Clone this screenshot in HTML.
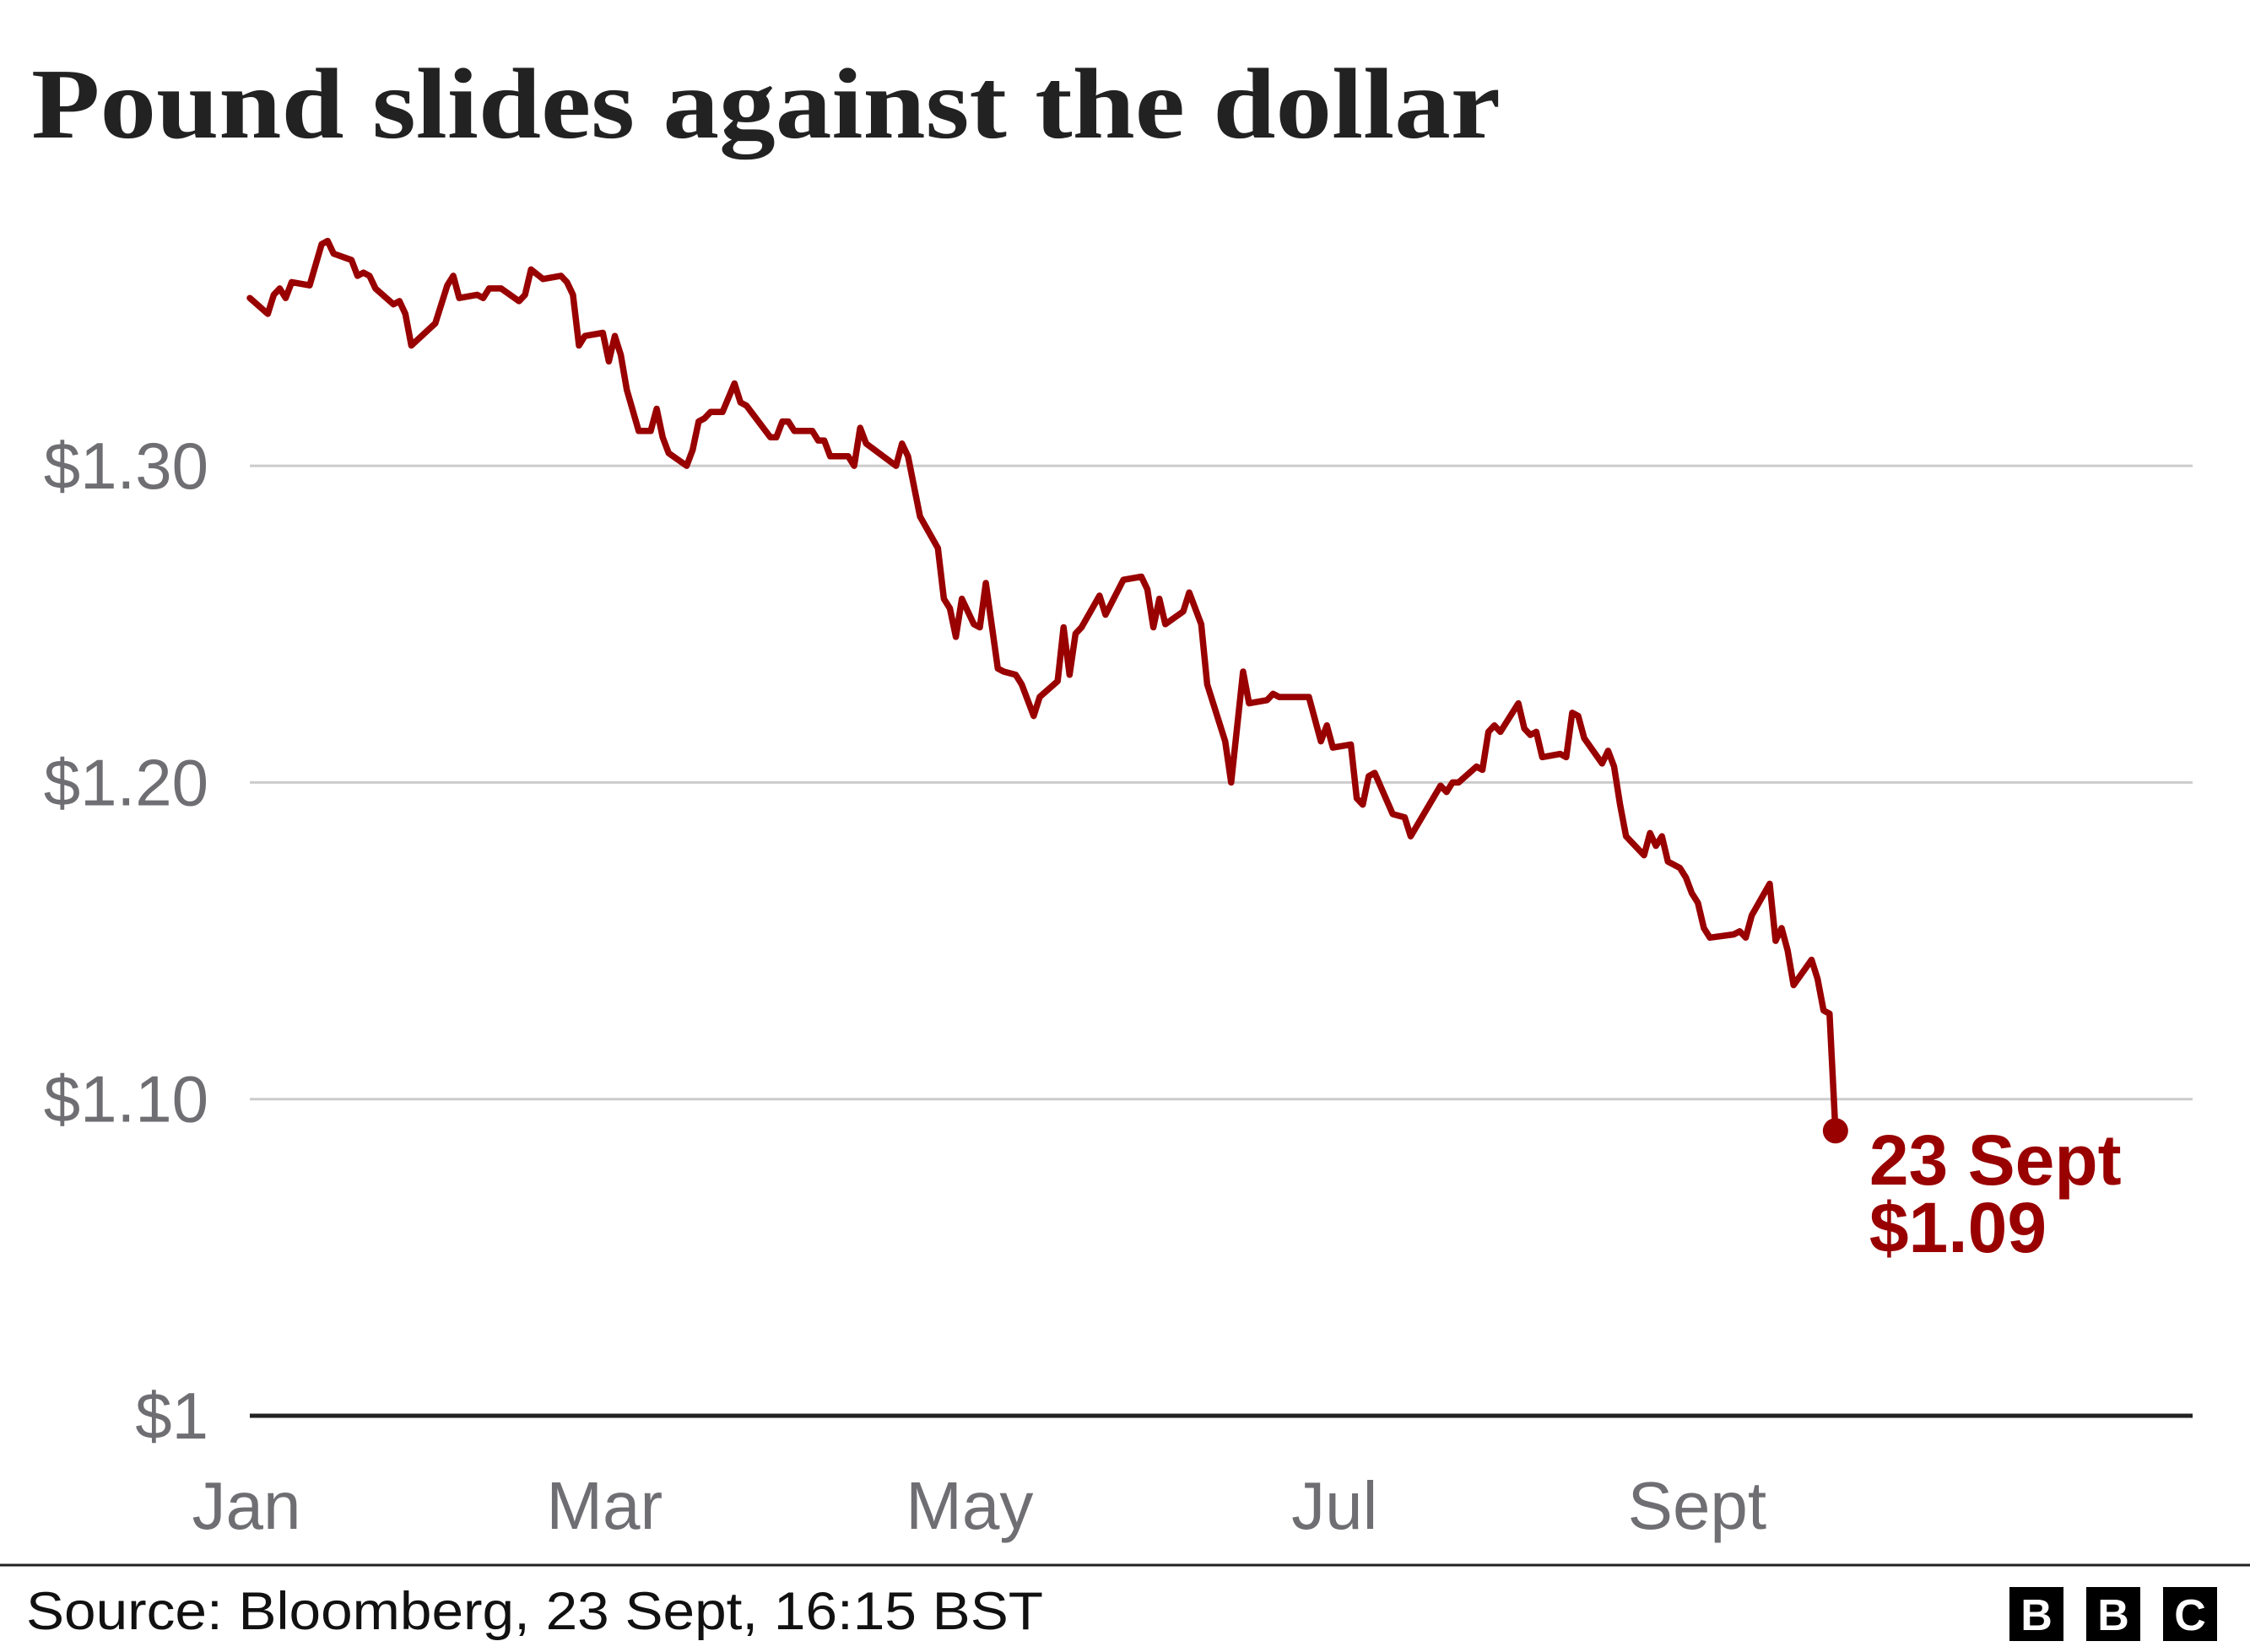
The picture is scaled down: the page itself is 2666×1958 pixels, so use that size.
<!DOCTYPE html>
<html><head><meta charset="utf-8">
<style>
html,body{margin:0;padding:0;background:#fff;}
svg{display:block;}
</style></head>
<body>
<svg id="chart" width="2666" height="1958" viewBox="0 0 2666 1958" xmlns="http://www.w3.org/2000/svg">
<rect width="2666" height="1958" fill="#fff"/>
<text x="37" y="163" font-family="Liberation Serif, serif" font-weight="bold" font-size="119" fill="#222" textLength="1741" lengthAdjust="spacingAndGlyphs">Pound slides against the dollar</text>
<g id="grid"></g>
<g id="yticks"></g>
<g id="xticks"></g>
<g id="series"></g>
<line x1="0" y1="1855" x2="2666" y2="1855" stroke="#222" stroke-width="3"/>
<text x="31" y="1931" font-family="Liberation Sans, sans-serif" font-size="63" fill="#111" textLength="1205" lengthAdjust="spacingAndGlyphs">Source: Bloomberg, 23 Sept, 16:15 BST</text>
<g font-family="Liberation Sans, sans-serif" font-weight="bold" font-size="52" fill="#fff" text-anchor="middle">
<rect x="2381" y="1881" width="64" height="64" fill="#000"/><text x="2413" y="1932">B</text>
<rect x="2472" y="1881" width="64" height="64" fill="#000"/><text x="2504" y="1932">B</text>
<rect x="2563" y="1881" width="64" height="64" fill="#000"/><text x="2595" y="1932">C</text>
</g>
</svg>
<script>
const days = [0,3,4,5,6,7,10,12,13,14,17,18,19,20,21,24,25,26,27,31,33,34,35,38,39,40,42,45,46,47,49,52,53,54,55,56,59,60,61,62,63,65,67,68,69,70,73,74,75,76,77,79,81,82,83,87,88,89,90,91,94,95,96,97,100,101,102,103,108,109,110,112,115,116,117,118,119,121,122,123,125,126,128,129,131,132,135,136,137,138,139,142,143,146,149,150,151,152,153,156,157,159,160,163,164,166,167,170,171,172,174,177,179,180,181,184,185,186,187,188,191,193,194,199,200,201,202,205,206,207,208,209,212,213,214,215,216,219,220,221,222,223,226,227,228,229,230,233,234,235,236,237,239,240,241,242,243,244,248,249,250,251,254,255,256,257,258,261,262,263,264,265];
const rates = [1.353,1.348,1.354,1.356,1.353,1.358,1.357,1.370,1.371,1.367,1.365,1.360,1.361,1.360,1.356,1.351,1.352,1.348,1.338,1.345,1.357,1.360,1.353,1.354,1.353,1.356,1.356,1.352,1.354,1.362,1.359,1.360,1.358,1.354,1.338,1.341,1.342,1.333,1.341,1.335,1.324,1.311,1.311,1.318,1.309,1.304,1.300,1.305,1.314,1.315,1.317,1.317,1.326,1.320,1.319,1.309,1.309,1.314,1.314,1.311,1.311,1.308,1.308,1.303,1.303,1.300,1.312,1.307,1.300,1.307,1.303,1.284,1.274,1.258,1.255,1.246,1.258,1.250,1.249,1.263,1.236,1.235,1.234,1.231,1.221,1.227,1.232,1.249,1.234,1.247,1.249,1.259,1.253,1.264,1.265,1.261,1.249,1.258,1.250,1.254,1.260,1.250,1.231,1.213,1.200,1.235,1.225,1.226,1.228,1.227,1.227,1.227,1.213,1.218,1.211,1.212,1.195,1.193,1.202,1.203,1.190,1.189,1.183,1.199,1.197,1.200,1.200,1.205,1.204,1.216,1.218,1.216,1.225,1.217,1.215,1.216,1.208,1.209,1.208,1.222,1.221,1.214,1.206,1.210,1.205,1.193,1.183,1.177,1.184,1.180,1.183,1.175,1.173,1.170,1.165,1.162,1.154,1.151,1.152,1.153,1.151,1.158,1.168,1.150,1.154,1.147,1.136,1.144,1.138,1.128,1.127,1.090];
const yTickValues = [1.0,1.1,1.2,1.3];
const yTickLabels = ["$1","$1.10","$1.20","$1.30"];
const monthDays = [0,59,120,181,243];
const monthLabels = ["Jan","Mar","May","Jul","Sept"];
const annotationLines = ["23 Sept","$1.09"];

const NS = "http://www.w3.org/2000/svg";
const X0 = 296, PER_DAY = 7.09, XR = 2598;
const Y1 = 1678, PER_UNIT = 3753;
function xs(d){ return X0 + d*PER_DAY; }
function ys(v){ return Y1 - (v-1)*PER_UNIT; }
function mk(tag, attrs, parent){
  const el = document.createElementNS(NS, tag);
  for (const k in attrs) el.setAttribute(k, attrs[k]);
  parent.appendChild(el);
  return el;
}
const grid = document.getElementById('grid');
const yt = document.getElementById('yticks');
yTickValues.forEach((v,i)=>{
  const base = v === 1.0;
  const ln = mk('line',{x1:X0,x2:XR,y1:ys(v),y2:ys(v),stroke:base?'#222':'#cccccc','stroke-width':base?5:3},grid);
  
  
  const t = mk('text',{x:247,y:ys(v)+27,'text-anchor':'end','font-family':'Liberation Sans, sans-serif','font-size':78,fill:'#6e6e73'},yt);
  t.textContent = yTickLabels[i];
  
  
});
const xt = document.getElementById('xticks');
monthDays.forEach((d,i)=>{
  const t = mk('text',{x:xs(d)+(i===4?-8:(i?2:-4)),y:1812,'text-anchor':'middle','font-family':'Liberation Sans, sans-serif','font-size':80,fill:'#6e6e73'},xt);
  t.textContent = monthLabels[i];
  
  
});
const s = document.getElementById('series');
const pts = days.map((d,i)=>xs(d).toFixed(1)+','+ys(rates[i]).toFixed(1)).join(' ');
const pl = mk('polyline',{points:pts,fill:'none',stroke:'#990000','stroke-width':7.5,'stroke-linejoin':'round','stroke-linecap':'round'},s);


const li = days.length-1;
const dot = mk('circle',{cx:xs(days[li]),cy:ys(rates[li]),r:15,fill:'#990000'},s);


annotationLines.forEach((txt,i)=>{
  const t = mk('text',{x:xs(days[li])+40,y:ys(rates[li])+64+i*80,'font-family':'Liberation Sans, sans-serif','font-weight':'bold','font-size':84,fill:'#990000'},s);
  t.textContent = txt;
  
  
});
</script>
</body></html>
